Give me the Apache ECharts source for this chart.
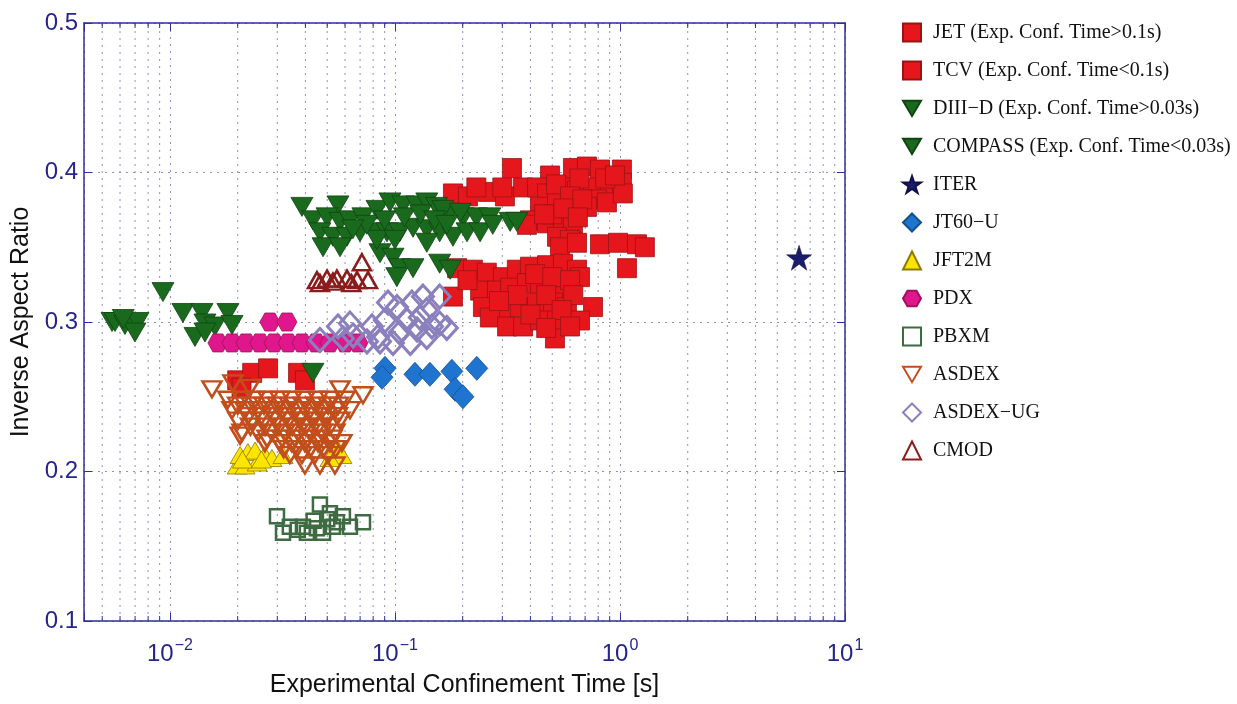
<!DOCTYPE html>
<html><head><meta charset="utf-8">
<script src="https://cdn.jsdelivr.net/npm/echarts@6/dist/echarts.min.js"></script>
<style>html,body{margin:0;padding:0;background:#fff}#c{width:1237px;height:704px}</style>
</head><body><div id="c"></div>
<script>
// ---- data (x: confinement time [s], y: inverse aspect ratio) ----
const seriesNames = [
  'JET (Exp. Conf. Time>0.1s)', 'TCV (Exp. Conf. Time<0.1s)',
  'DIII−D (Exp. Conf. Time>0.03s)', 'COMPASS (Exp. Conf. Time<0.03s)',
  'ITER', 'JT60−U', 'JFT2M', 'PDX', 'PBXM', 'ASDEX', 'ASDEX−UG', 'CMOD'
];
const jet = [
  [0.331,0.403],[0.618,0.403],[0.713,0.404],[0.815,0.402],[1.02,0.402],[0.489,0.398],
  [0.181,0.386],[0.211,0.384],[0.259,0.387],[0.308,0.384],[0.371,0.390],[0.428,0.390],[0.474,0.386],[0.558,0.390],[0.644,0.388],[0.759,0.390],[0.903,0.390],[1.02,0.393],
  [0.790,0.382],[0.713,0.377],[0.875,0.380],[1.03,0.386],
  [0.441,0.377],[0.525,0.380],[0.599,0.373],[0.398,0.368],[0.474,0.366],[0.558,0.366],[0.386,0.365],[0.618,0.364],
  [0.525,0.357],[0.599,0.355],[0.541,0.350],[0.644,0.353],
  [0.815,0.352],[0.980,0.353],[1.19,0.352],[1.29,0.350],[1.074,0.336],
  [0.189,0.336],[0.222,0.335],[0.256,0.333],[0.302,0.330],[0.348,0.335],[0.398,0.337],[0.474,0.338],[0.558,0.339],[0.644,0.335],[0.664,0.330],
  [0.239,0.321],[0.284,0.321],[0.325,0.323],[0.386,0.326],[0.441,0.323],[0.525,0.326],[0.558,0.319],
  [0.181,0.317],[0.246,0.310],[0.302,0.308],[0.359,0.310],[0.428,0.313],[0.504,0.313],[0.581,0.310],[0.759,0.310],
  [0.264,0.303],[0.315,0.297],[0.371,0.297],[0.441,0.301],[0.525,0.301],[0.664,0.301],[0.514,0.289],
  [0.66,0.396],[0.86,0.396],[0.95,0.398],[0.52,0.392],[0.60,0.384],[0.68,0.382],[0.50,0.372],[0.56,0.376],[0.46,0.372],[0.65,0.370],
  [0.30,0.390],[0.23,0.390],
  [0.42,0.332],[0.50,0.330],[0.60,0.328],[0.35,0.318],[0.47,0.318],[0.62,0.318],[0.40,0.305],[0.29,0.314],[0.21,0.328],[0.55,0.308],[0.47,0.296],[0.60,0.297]
];
const tcv = [[0.0199,0.261],[0.0232,0.266],[0.0273,0.269],[0.0371,0.266],[0.0398,0.261],[0.0208,0.256]];
const diiid = [
  [0.0386,0.377],[0.0558,0.378],[0.0432,0.368],[0.0499,0.370],[0.0570,0.367],[0.0631,0.368],[0.0720,0.370],[0.0832,0.375],[0.0950,0.380],[0.1085,0.378],
  [0.1253,0.378],[0.1385,0.380],[0.153,0.377],[0.176,0.373],[0.201,0.370],[0.230,0.370],[0.264,0.370],
  [0.0464,0.360],[0.0530,0.357],[0.0612,0.357],[0.0699,0.360],[0.0799,0.360],[0.0921,0.360],[0.105,0.360],[0.1203,0.363],[0.1385,0.362],[0.158,0.360],[0.181,0.357],[0.209,0.360],[0.239,0.360],
  [0.0479,0.350],[0.0570,0.350],[0.0858,0.346],[0.0980,0.343],[0.0832,0.355],[0.1385,0.353],[0.105,0.336],[0.1203,0.336],[0.1019,0.330],[0.158,0.339],[0.176,0.335],
  [0.1632,0.375],[0.195,0.373],[0.272,0.365],[0.325,0.367],[0.348,0.367],[0.0432,0.266],
  [0.075,0.365],[0.11,0.370],[0.13,0.372],[0.09,0.368],[0.065,0.362],[0.15,0.368],[0.17,0.365],[0.10,0.355]
];
const compass = [
  [0.00553,0.300],[0.0057,0.300],[0.00631,0.298],[0.00721,0.300],[0.00699,0.293],[0.00931,0.320],[0.01142,0.306],[0.01388,0.306],
  [0.0181,0.306],[0.01431,0.299],[0.01585,0.297],[0.01887,0.298],[0.01292,0.290],[0.01431,0.293],[0.0062,0.302]
];
const iter = [[6.25,0.343]];
const jt60u = [[0.0903,0.269],[0.0876,0.263],[0.1227,0.265],[0.143,0.265],[0.179,0.267],[0.231,0.269],[0.185,0.255],[0.2005,0.250]];
const jft2m = [[0.0199,0.204],[0.0205,0.211],[0.0222,0.213],[0.02154,0.204],[0.0244,0.206],[0.0239,0.214],[0.0264,0.211],[0.0284,0.209],[0.0318,0.211],[0.0552,0.216],[0.0581,0.211],[0.0514,0.209],[0.021,0.208],[0.0255,0.208]];
const pdx = [[0.01634,0.286],[0.01887,0.286],[0.02177,0.286],[0.0251,0.286],[0.0290,0.286],[0.0335,0.286],[0.0386,0.286],[0.0446,0.286],[0.0514,0.286],[0.0600,0.286],[0.0685,0.286],[0.0278,0.300],[0.0331,0.300]];
const pbxm = [[0.0299,0.170],[0.0464,0.178],[0.0514,0.172],[0.0341,0.163],[0.039,0.163],[0.045,0.162],[0.053,0.163],[0.0631,0.163],[0.0721,0.166],[0.0587,0.170],[0.0552,0.166],[0.0479,0.159],[0.0406,0.159],[0.0318,0.159],[0.0435,0.167],[0.0500,0.168],[0.0370,0.161]];
const asdex = [
  [0.01537,0.255],[0.01905,0.259],[0.02268,0.256],[0.0570,0.255],[0.0721,0.251],
  [0.0181,0.248],[0.0209,0.248],[0.02387,0.248],[0.02726,0.248],[0.0308,0.248],[0.0348,0.248],[0.0398,0.248],[0.0455,0.248],[0.0514,0.248],[0.0600,0.248],
  [0.0200,0.244],[0.0230,0.244],[0.0262,0.244],[0.0300,0.244],[0.0340,0.244],[0.0390,0.244],[0.0445,0.244],[0.0505,0.244],[0.0560,0.244],
  [0.01887,0.241],[0.02154,0.241],[0.0246,0.241],[0.02783,0.241],[0.0318,0.241],[0.0363,0.241],[0.0419,0.241],[0.0474,0.241],[0.0541,0.241],[0.0631,0.241],
  [0.0222,0.237],[0.0255,0.237],[0.0290,0.237],[0.0330,0.237],[0.0380,0.237],[0.0435,0.237],[0.0495,0.237],[0.0555,0.237],
  [0.02005,0.234],[0.02314,0.234],[0.02617,0.234],[0.0296,0.234],[0.0335,0.234],[0.0378,0.234],[0.0432,0.234],[0.0493,0.234],[0.0570,0.234],
  [0.0228,0.230],[0.0265,0.230],[0.0305,0.230],[0.0350,0.230],[0.0400,0.230],[0.0455,0.230],[0.0515,0.230],
  [0.0209,0.226],[0.0246,0.226],[0.0284,0.226],[0.0324,0.226],[0.0371,0.226],[0.0419,0.226],[0.0474,0.226],[0.0541,0.226],[0.0205,0.224],
  [0.0270,0.222],[0.0315,0.222],[0.0360,0.222],[0.0410,0.222],[0.0465,0.222],[0.0525,0.222],
  [0.02643,0.219],[0.0308,0.219],[0.0348,0.219],[0.0398,0.219],[0.0455,0.219],[0.0514,0.219],[0.0581,0.219],
  [0.0320,0.215],[0.0365,0.215],[0.0420,0.215],[0.0480,0.215],[0.0545,0.215],
  [0.0341,0.211],[0.0386,0.211],[0.0441,0.211],[0.0504,0.211],
  [0.0398,0.204],[0.0464,0.204],[0.0541,0.204]
];
const asdexug = [
  [0.0464,0.288],[0.0558,0.297],[0.0631,0.299],[0.0651,0.291],[0.0587,0.289],[0.0790,0.297],[0.0840,0.290],[0.0903,0.301],[0.0931,0.313],[0.105,0.293],
  [0.0980,0.286],[0.1131,0.301],[0.119,0.313],[0.1332,0.317],[0.158,0.317],[0.1385,0.308],[0.1253,0.295],[0.1385,0.290],[0.158,0.299],[0.170,0.296],
  [0.117,0.286],[0.0858,0.287],[0.0751,0.287],[0.1021,0.310],[0.146,0.297],[0.129,0.303]
];
const cmod = [[0.0450,0.328],[0.0464,0.326],[0.0499,0.329],[0.0552,0.329],[0.0612,0.329],[0.0678,0.328],[0.0759,0.328],[0.0713,0.340],[0.0530,0.327],[0.0640,0.326]];
// axis ticks
const X_MIN = 0.00415, X_MAX = 10, Y_MIN = 0.1, Y_MAX = 0.5, Y_STEP = 0.1;
const xMinor = [0.005,0.006,0.007,0.008,0.009,0.02,0.03,0.04,0.05,0.06,0.07,0.08,0.09,0.2,0.3,0.4,0.5,0.6,0.7,0.8,0.9,2,3,4,5,6,7,8,9];

// ---- chart ----
const axisColor = '#2f2f96';
const gridColor = '#9090c0';
const gridDash = [2, 5];
const downTri = 'path://M0,0L20,0L10,17Z';
const star = 'path://M50,0L61.8,35.1L98.9,35.1L68.8,56.9L80.3,91.9L50,70.2L19.7,91.9L31.2,56.9L1.1,35.1L38.2,35.1Z';
const hexagon = 'path://M25,0L75,0L100,43.3L75,86.6L25,86.6L0,43.3Z';

function powLabel(v) {
  const l = Math.log10(v), e = Math.round(l);
  if (Math.abs(l - e) > 1e-6) return '';
  return '{b|10}{s|' + (e < 0 ? '−' + (-e) : String(e)) + '}';
}

function sc(name, data, symbol, size, color, border, bw, z) {
  return { type: 'scatter', name, data, symbol, symbolSize: size, z,
    itemStyle: { color, borderColor: border, borderWidth: bw, opacity: 1 } };
}

const chart = echarts.init(document.getElementById('c'));
chart.setOption({
  animation: false,
  backgroundColor: '#fff',
  grid: { left: 84, right: 392, top: 23, bottom: 83 },
  legend: {
    data: seriesNames, orient: 'vertical', left: 897, top: 17.5,
    itemWidth: 18, itemHeight: 18, itemGap: 18,
    textStyle: { fontFamily: 'Liberation Serif', fontSize: 20, color: '#111', padding: [0, 0, 0, 7] },
    selectedMode: false
  },
  xAxis: [{
    type: 'log', logBase: 10, min: X_MIN, max: X_MAX,
    name: 'Experimental Confinement Time [s]', nameLocation: 'middle', nameGap: 52,
    nameTextStyle: { fontFamily: 'Liberation Sans', fontSize: 25, color: '#111' },
    axisLine: { show: true, onZero: false, lineStyle: { color: axisColor, width: 1.5 } },
    axisTick: { show: true, inside: true, length: 8, lineStyle: { color: axisColor } },
    axisLabel: {
      margin: 17, formatter: powLabel,
      rich: {
        b: { fontFamily: 'Liberation Sans', fontSize: 24, color: '#26268a' },
        s: { fontFamily: 'Liberation Sans', fontSize: 16, color: '#26268a', verticalAlign: 'bottom', padding: [0, 0, 17, 1] }
      }
    },
    splitLine: { show: true, lineStyle: { color: gridColor, width: 1, type: gridDash } }
  }, {
    type: 'log', logBase: 10, min: X_MIN, max: X_MAX, position: 'top',
    axisLine: { show: true, onZero: false, lineStyle: { color: axisColor, width: 1.5 } },
    axisTick: { show: true, inside: true, length: 8, lineStyle: { color: axisColor } },
    axisLabel: { show: false }, splitLine: { show: false }
  }],
  yAxis: [{
    type: 'value', min: Y_MIN, max: Y_MAX, interval: Y_STEP,
    name: 'Inverse Aspect Ratio', nameLocation: 'middle', nameGap: 50, nameRotate: 90,
    nameTextStyle: { fontFamily: 'Liberation Sans', fontSize: 25, color: '#111' },
    axisLine: { show: true, onZero: false, lineStyle: { color: axisColor, width: 1.5 } },
    axisTick: { show: true, inside: true, length: 8, lineStyle: { color: axisColor } },
    axisLabel: { margin: 6, fontFamily: 'Liberation Sans', fontSize: 24, color: '#26268a',
      formatter: v => v.toFixed(1) },
    splitLine: { show: true, lineStyle: { color: gridColor, width: 1, type: gridDash } }
  }, {
    type: 'value', min: Y_MIN, max: Y_MAX, interval: Y_STEP, position: 'right',
    axisLine: { show: true, onZero: false, lineStyle: { color: axisColor, width: 1.5 } },
    axisTick: { show: true, inside: true, length: 8, lineStyle: { color: axisColor } },
    axisLabel: { show: false }, splitLine: { show: false }
  }],
  series: [
    {
      type: 'custom', name: 'minorGrid', silent: true, z: 1, xAxisIndex: 0, yAxisIndex: 0,
      data: xMinor.map(v => [v, Y_MIN]),
      encode: { x: 0, y: 1 },
      renderItem: (params, api) => {
        const x = api.value(0);
        const p0 = api.coord([x, Y_MIN]);
        const p1 = api.coord([x, Y_MAX]);
        return { type: 'group', children: [
          { type: 'line', shape: { x1: p0[0], y1: p0[1], x2: p1[0], y2: p1[1] },
            style: { stroke: gridColor, lineWidth: 1, lineDash: gridDash } },
          { type: 'line', shape: { x1: p0[0], y1: p0[1], x2: p0[0], y2: p0[1] - 5 },
            style: { stroke: axisColor, lineWidth: 1 } },
          { type: 'line', shape: { x1: p1[0], y1: p1[1], x2: p1[0], y2: p1[1] + 5 },
            style: { stroke: axisColor, lineWidth: 1 } }
        ] };
      }
    },
    sc(seriesNames[0], jet, 'rect', 19, '#e5161c', '#9a1416', 0.8, 3),
    sc(seriesNames[1], tcv, 'rect', 19, '#e5161c', '#9a1416', 0.8, 3),
    sc(seriesNames[2], diiid, downTri, [22, 19], '#1a6a1e', '#0f4512', 0.8, 4),
    sc(seriesNames[3], compass, downTri, [22, 19], '#1a6a1e', '#0f4512', 0.8, 4),
    sc(seriesNames[4], iter, star, 25, '#1c1c6c', '#10104a', 0.5, 4),
    sc(seriesNames[5], jt60u, 'diamond', [22, 24], '#1f74d0', '#11508f', 0.8, 4),
    sc(seriesNames[6], jft2m, 'triangle', [20, 17], '#ffe400', '#8c7a00', 0.8, 4),
    sc(seriesNames[7], pdx, hexagon, [20, 18], '#e0178c', '#a0105e', 0.8, 4),
    sc(seriesNames[8], pbxm, 'rect', 14, 'rgba(255,255,255,0)', '#3f6b42', 2.5, 5),
    sc(seriesNames[9], asdex, downTri, [19, 16], 'rgba(255,255,255,0)', '#c24e1c', 2.5, 5),
    sc(seriesNames[10], asdexug, 'diamond', [21, 23], 'rgba(255,255,255,0)', '#8a80bd', 3, 5),
    sc(seriesNames[11], cmod, 'triangle', [18, 16], 'rgba(255,255,255,0)', '#8b1c1c', 2.5, 5)
  ]
});
</script></body></html>
